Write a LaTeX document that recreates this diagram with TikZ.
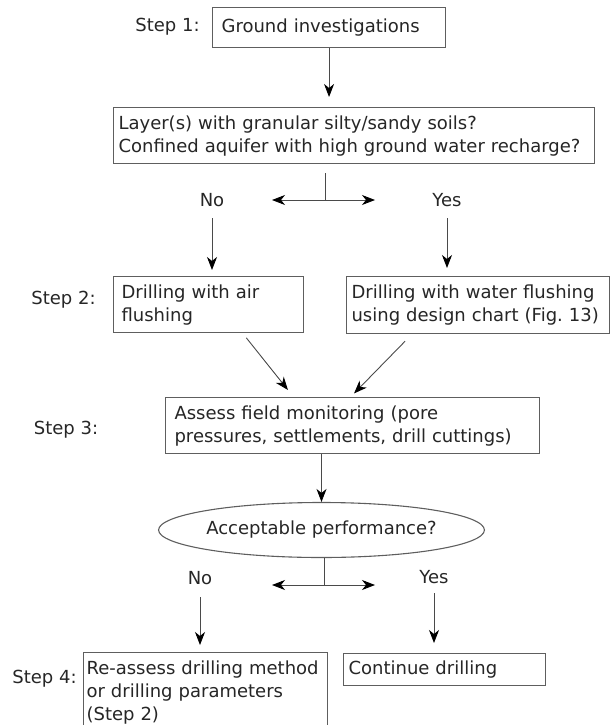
\documentclass[tikz,border=0pt]{standalone}
\usepackage{fontspec}
\setmainfont{DejaVu Sans}
\usetikzlibrary{shapes.geometric, arrows.meta, positioning, calc}
\definecolor{boxgray}{HTML}{5E5E5E}
\definecolor{inkgray}{HTML}{262626}
\definecolor{linegray}{HTML}{4A4A4A}
\tikzset{
    box/.style={draw=boxgray, line width=1.1pt, fill=white, anchor=north west, align=left, inner ysep=0pt, text=inkgray, font=\fontsize{18}{23}\selectfont},
    decision/.style={ellipse, draw=boxgray, line width=1.1pt, minimum width=273pt, minimum height=55pt, inner sep=0pt, text=inkgray, font=\fontsize{18}{23}\selectfont},
    steplabel/.style={inner sep=0pt, text=inkgray, font=\fontsize{18}{23}\selectfont},
    arrow/.style={-{Stealth[length=13pt, width=10pt, inset=4pt, black]}, line width=0.9pt, linegray},
    plainline/.style={line width=0.9pt, linegray}
}

\begin{document}
\begin{tikzpicture}[x=1pt, y=-1pt]
        \useasboundingbox (0,0) rectangle (611,725);
        \clip (0,0) rectangle (611,725);
        % boxes
        \node [box, inner xsep=9pt, text width=215pt, minimum height=40pt] (inv) at (212,7) {Ground investigations};
        \node [box, inner xsep=5pt, text width=471pt, minimum height=56pt] (quest) at (113,107) {Layer(s) with granular silty/sandy soils?\\ Confined aquifer with high ground water recharge?};
        \node [box, inner xsep=8pt, text width=174pt, minimum height=56pt] (air) at (113,276) {Drilling with air\\ flushing};
        \node [box, inner xsep=5pt, text width=253pt, minimum height=57pt] (water) at (346,276) {Drilling with water flushing\\ using design chart (Fig.~13)};
        \node [box, inner xsep=9pt, text width=356pt, minimum height=56pt] (assess) at (165,397) {Assess field monitoring (pore\\ pressures, settlements, drill cuttings)};
        \node [decision] (perf) at (321.5,530) {Acceptable performance?};
        \node [box, inner xsep=3pt, text width=238pt, minimum height=80pt] (reassess) at (83,652) {Re-assess drilling method\\ or drilling parameters\\ (Step 2)};
        \node [box, inner xsep=5pt, text width=192pt, minimum height=32pt] (cont) at (343,653) {Continue drilling};
        % step labels
        \node [steplabel] (s1) at (167.5,27) {Step 1:};
        \node [steplabel] (s2) at (63.5,300) {Step 2:};
        \node [steplabel] (s3) at (66,430) {Step 3:};
        \node [steplabel] (s4) at (44.5,679) {Step 4:};
        % first decision
        \draw [arrow, shorten >=10pt] (inv.south) -- (inv.south |- quest.north);
        \coordinate (fork1) at (325,200);
        \coordinate (left1) at (272,200);
        \coordinate (right1) at (375,200);
        \draw [plainline, shorten <=9pt] (quest.south -| fork1) -- (fork1);
        \draw [arrow] (fork1) -- (left1);
        \draw [arrow] (fork1) -- (right1);
        \node [steplabel] (no1) at (212,200) {No};
        \node [steplabel] (yes1) at (447,200) {Yes};
        \draw [arrow, shorten <=18pt, shorten >=6pt] (no1.center) -- (no1.center |- air.north);
        \draw [arrow, shorten <=18pt, shorten >=8pt] (yes1.center) -- (yes1.center |- water.north);
        \draw [arrow, shorten <=6pt, shorten >=9pt] ([xshift=34pt]air.south) -- ([xshift=-59pt]assess.north);
        \draw [arrow, shorten <=10pt, shorten >=5pt] ([xshift=-66pt]water.south) -- ([xshift=-2pt]assess.north);
        % second decision
        \draw [arrow] (assess.south -| perf.north) -- (perf.north);
        \coordinate (fork2) at (324,585);
        \coordinate (left2) at (272,585);
        \coordinate (right2) at (375,585);
        \draw [plainline] (perf.south -| fork2) -- (fork2);
        \draw [arrow] (fork2) -- (left2);
        \draw [arrow] (fork2) -- (right2);
        \node [steplabel] (no2) at (200,578) {No};
        \node [steplabel] (yes2) at (434,577) {Yes};
        \draw [arrow, shorten <=19pt, shorten >=7pt] (no2.center) -- (no2.center |- reassess.north);
        \draw [arrow, shorten <=16pt, shorten >=10pt] (yes2.center) -- (yes2.center |- cont.north);
    \end{tikzpicture}
\end{document}
